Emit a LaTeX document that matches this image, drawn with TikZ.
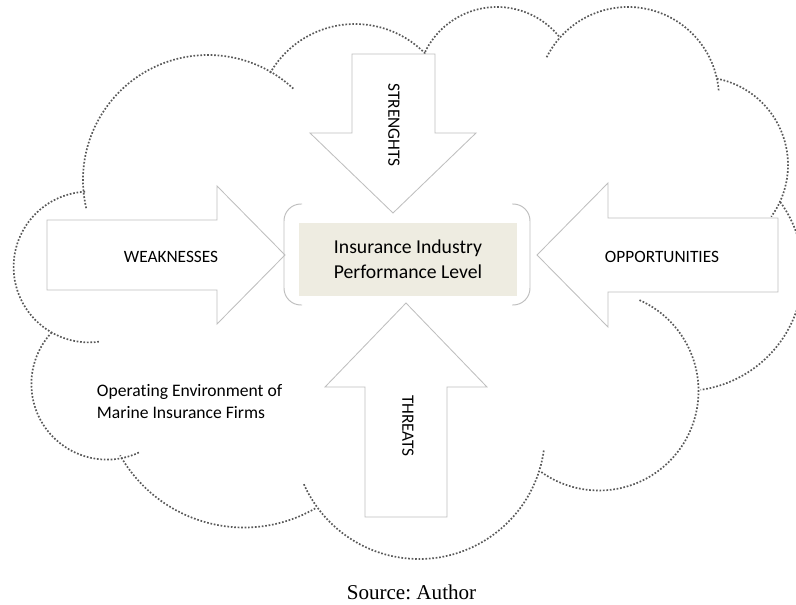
\documentclass[tikz,border=0pt]{standalone}
\usepackage{fontspec}
\setmainfont{Carlito}[Ligatures=NoCommon]
\newfontfamily\sourcefont{Liberation Serif}
\definecolor{perffill}{HTML}{EEECE1}
\frenchspacing

\begin{document}
\begin{tikzpicture}[
    x=0.025cm, y=-0.025cm,
    cloudline/.style={draw=black!65, line width=1.2pt, dash pattern=on 1.2pt off 1.25pt},
    blockarrow/.style={draw=black!25, line width=0.6pt, fill=white},
    bracketline/.style={draw=black!25, line width=0.7pt, rounded corners=12pt},
    perfbox/.style={fill=perffill, minimum width=155pt, minimum height=52pt, align=center, font=\fontsize{14}{17.8}\selectfont},
    armlabel/.style={font=\fontsize{12.3}{14}\selectfont},
    envlabel/.style={font=\fontsize{12.5}{15}\selectfont, align=left, anchor=west}
]

\useasboundingbox (0,0) rectangle (796,605);
\clip (0,0) rectangle (796,605);

% Cloud lobes (center, start angle, end angle, radius)
\draw[cloudline] (208,180) ++(167:125) arc[start angle=167, end angle=313, radius=125];
\draw[cloudline] (355,122) ++(210:98) arc[start angle=210, end angle=320, radius=98];
\draw[cloudline] (497,87) ++(206:80) arc[start angle=206, end angle=322, radius=80];
\draw[cloudline] (628,98) ++(206.6:91) arc[start angle=206.6, end angle=356, radius=91];
\draw[cloudline] (700,165) ++(281:88) arc[start angle=281, end angle=396, radius=88];
\draw[cloudline] (684,272) ++(324:119) arc[start angle=324, end angle=442, radius=119];
\draw[cloudline] (599,391) ++(294:99.5) arc[start angle=294, end angle=486, radius=99.5];
\draw[cloudline] (419,433) ++(8:126) arc[start angle=8, end angle=156.4, radius=126];
\draw[cloudline] (244,385) ++(60:142.5) arc[start angle=60, end angle=150.4, radius=142.5];
\draw[cloudline] (107,384) ++(223:75.6) arc[start angle=223, end angle=64, radius=75.6];
\draw[cloudline] (89,267) ++(267:75.4) arc[start angle=267, end angle=82, radius=75.4];

% Block arrows pointing to the centre
\draw[blockarrow] (47,220) -- (217,220) -- (217,186) -- (285,255) -- (217,324) -- (217,290) -- (47,290) -- cycle;
\draw[blockarrow] (778,218) -- (608,218) -- (608,183) -- (537,255) -- (608,327) -- (608,292) -- (778,292) -- cycle;
\draw[blockarrow] (352,54) -- (435,54) -- (435,133) -- (476,133) -- (393,213) -- (310,133) -- (352,133) -- cycle;
\draw[blockarrow] (365,517) -- (365,387) -- (325,387) -- (406,303) -- (487,387) -- (447,387) -- (447,517) -- cycle;

% Bracket pair round the centre box
\draw[bracketline] (302,204) -- (284,204) -- (284,305) -- (302,305);
\draw[bracketline] (512,204) -- (530,204) -- (530,305) -- (512,305);

% Centre box
\node[perfbox] (perf) at (408,259.5) {Insurance Industry\\Performance Level};

% Labels
\node[armlabel] (weak) at (171,257) {WEAKNESSES};
\node[armlabel] (opp) at (662,257) {OPPORTUNITIES};
\node[armlabel, rotate=-90] (str) at (394,125) {STRENGHTS};
\node[armlabel, rotate=-90] (thr) at (408,426) {THREATS};
\node[envlabel] (env) at (92,401.5) {Operating Environment of\\Marine Insurance Firms};
\node[font=\sourcefont\fontsize{15}{18}\selectfont] (src) at (411.5,592) {Source: Author};

\end{tikzpicture}
\end{document}
